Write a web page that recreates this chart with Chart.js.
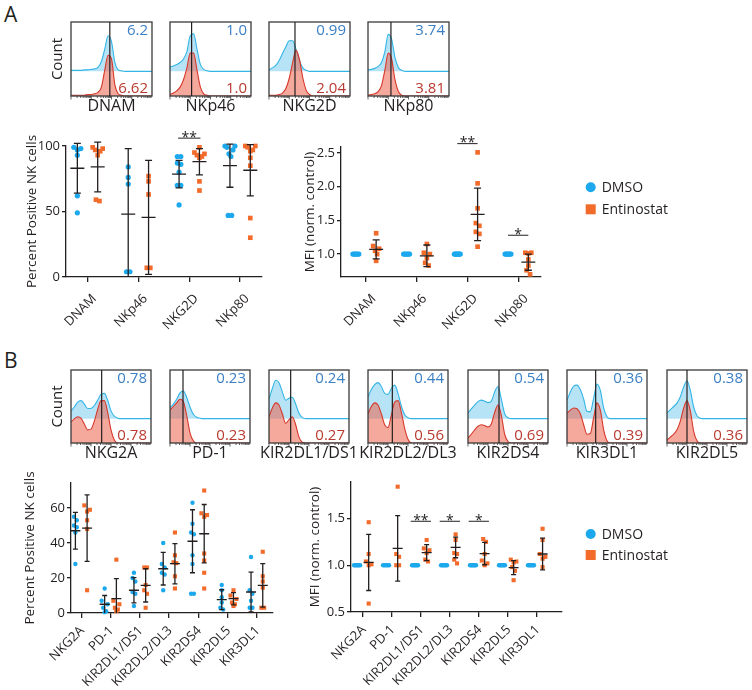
<!DOCTYPE html>
<html lang="en">
<head>
<meta charset="UTF-8">
<title>NK receptor expression - DMSO vs Entinostat</title>
<script src="https://cdn.jsdelivr.net/npm/chart.js"></script>
<style>
  html, body { margin: 0; padding: 0; background: #fff; overflow: hidden; }
  #fig { position: relative; width: 752px; height: 690px; font-family: 'Open Sans', sans-serif; color: #231f20; }
  #fig canvas { position: absolute; }
  .panel { position: absolute; font-size: 21px; line-height: 1; }
</style>
</head>
<body>
<div id="fig">
  <div class="panel" style="left:4px;top:4px">A</div>
  <div class="panel" style="left:4px;top:350px">B</div>
</div>
<script>
// ---------------- data ----------------
const seriesNames = ['DMSO', 'Entinostat'];

// panel A histograms (counts per bin, 25 bins, log fluorescence)
const histLabelsA = ['DNAM', 'NKp46', 'NKG2D', 'NKp80'];
const histMfiDmsoA = ['6.2', '1.0', '0.99', '3.74'];
const histMfiEntA = ['6.62', '1.0', '2.04', '3.81'];
const gateA = [11.5, 6.4, 7.7, 6.8];
const countsDmsoA = [
  [2, 2, 2, 2, 3, 3, 4, 5, 8, 20, 45, 72, 60, 18, 3, 1, 0, 0, 0, 0, 0, 0, 0, 0, 0],
  [9, 11, 14, 18, 25, 40, 72, 76, 45, 14, 4, 1, 0, 0, 0, 0, 0, 0, 0, 0, 0, 0, 0, 0, 0],
  [3, 7, 12, 22, 36, 50, 62, 62, 45, 22, 7, 2, 0, 0, 0, 0, 0, 0, 0, 0, 0, 0, 0, 0, 0],
  [3, 4, 6, 10, 18, 40, 75, 65, 28, 8, 2, 0, 0, 0, 0, 0, 0, 0, 0, 0, 0, 0, 0, 0, 0]
];
const countsEntA = [
  [1, 1, 1, 1, 1, 2, 2, 3, 5, 12, 35, 55, 50, 15, 3, 1, 0, 0, 0, 0, 0, 0, 0, 0, 0],
  [2, 4, 7, 12, 22, 38, 58, 58, 35, 12, 3, 1, 0, 0, 0, 0, 0, 0, 0, 0, 0, 0, 0, 0, 0],
  [1, 1, 1, 2, 4, 10, 24, 45, 62, 50, 25, 8, 2, 0, 0, 0, 0, 0, 0, 0, 0, 0, 0, 0, 0],
  [1, 2, 3, 6, 14, 35, 58, 50, 22, 6, 1, 0, 0, 0, 0, 0, 0, 0, 0, 0, 0, 0, 0, 0, 0]
];

// panel B histograms
const histLabelsB = ['NKG2A', 'PD-1', 'KIR2DL1/DS1', 'KIR2DL2/DL3', 'KIR2DS4', 'KIR3DL1', 'KIR2DL5'];
const histMfiDmsoB = ['0.78', '0.23', '0.24', '0.44', '0.54', '0.36', '0.38'];
const histMfiEntB = ['0.78', '0.23', '0.27', '0.56', '0.69', '0.39', '0.36'];
const gateB = [9.2, 3.9, 6.5, 7.3, 9.3, 8.6, 6.0];
const countsDmsoB = [
  [16, 24, 34, 37, 30, 21, 21, 27, 38, 50, 52, 38, 16, 5, 1, 0, 0, 0, 0, 0, 0, 0, 0, 0, 0],
  [22, 30, 40, 53, 57, 44, 24, 9, 3, 1, 0, 0, 0, 0, 0, 0, 0, 0, 0, 0, 0, 0, 0, 0, 0],
  [40, 62, 79, 74, 55, 38, 42, 44, 30, 11, 2, 0, 0, 0, 0, 0, 0, 0, 0, 0, 0, 0, 0, 0, 0],
  [45, 60, 70, 74, 66, 52, 50, 62, 69, 52, 26, 8, 2, 0, 0, 0, 0, 0, 0, 0, 0, 0, 0, 0, 0],
  [12, 20, 28, 35, 38, 36, 33, 36, 55, 66, 40, 10, 2, 0, 0, 0, 0, 0, 0, 0, 0, 0, 0, 0, 0],
  [38, 55, 67, 69, 60, 40, 15, 14, 42, 71, 58, 22, 4, 0, 0, 0, 0, 0, 0, 0, 0, 0, 0, 0, 0],
  [12, 18, 25, 32, 45, 65, 78, 58, 24, 6, 1, 0, 0, 0, 0, 0, 0, 0, 0, 0, 0, 0, 0, 0, 0]
];
const countsEntB = [
  [29, 33, 36, 34, 26, 18, 19, 30, 46, 58, 58, 42, 18, 4, 0, 0, 0, 0, 0, 0, 0, 0, 0, 0, 0],
  [45, 50, 55, 60, 57, 38, 14, 3, 0, 0, 0, 0, 0, 0, 0, 0, 0, 0, 0, 0, 0, 0, 0, 0, 0],
  [36, 48, 55, 52, 40, 27, 32, 36, 25, 8, 1, 0, 0, 0, 0, 0, 0, 0, 0, 0, 0, 0, 0, 0, 0],
  [40, 50, 55, 52, 40, 25, 21, 38, 56, 58, 42, 20, 5, 0, 0, 0, 0, 0, 0, 0, 0, 0, 0, 0, 0],
  [7, 12, 18, 23, 25, 24, 22, 26, 42, 52, 38, 12, 2, 0, 0, 0, 0, 0, 0, 0, 0, 0, 0, 0, 0],
  [41, 45, 48, 47, 40, 25, 12, 13, 35, 55, 45, 18, 3, 0, 0, 0, 0, 0, 0, 0, 0, 0, 0, 0, 0],
  [4, 8, 12, 18, 30, 48, 58, 44, 16, 3, 0, 0, 0, 0, 0, 0, 0, 0, 0, 0, 0, 0, 0, 0, 0]
];

// panel A dot plots
const catsA = ['DNAM', 'NKp46', 'NKG2D', 'NKp80'];
const pctDmsoA = [
  [99, 98, 97, 93, 62, 49],
  [84, 76, 71, 4, 4],
  [92, 92, 87, 86, 80, 70, 70, 55],
  [100, 100, 99, 97, 94, 92, 47, 47]
];
const pctEntA = [
  [99, 98, 97, 96, 93, 59, 58],
  [77, 73, 63, 7, 7],
  [99, 95, 94, 93, 92, 91, 73, 66],
  [100, 100, 99, 97, 96, 91, 85, 45, 30]
];
const pctMeanDmsoA = [83, 48, 78.5, 85];
const pctSdDmsoA = [19, 50, 10.5, 16.5];
const pctMeanEntA = [84, 45.5, 88, 81.5];
const pctSdEntA = [19, 43.5, 10, 19.5];
const pctTicksA = [0, 50, 100];
const pctSigCatsA = [3];
const pctSigTextA = ['**'];

const mfiDmsoA = [
  [1, 1, 1, 1, 1, 1],
  [1, 1, 1, 1, 1, 1],
  [1, 1, 1, 1, 1, 1, 1, 1],
  [1, 1, 1, 1, 1, 1, 1]
];
const mfiEntA = [
  [1.31, 1.12, 1.08, 1.05, 1.0, 0.90],
  [1.15, 1.02, 1.0, 0.94, 0.87, 0.83],
  [2.51, 2.05, 1.68, 1.46, 1.42, 1.33, 1.30, 1.11],
  [1.02, 1.02, 1.01, 0.92, 0.83, 0.76, 0.70]
];
const mfiMeanEntA = [1.07, 0.975, 1.59, 0.88];
const mfiSdEntA = [0.14, 0.16, 0.39, 0.12];
const mfiTicksA = [1.0, 1.5, 2.0, 2.5];
const mfiSigCatsA = [3, 4];
const mfiSigTextA = ['**', '*'];

// panel B dot plots
const catsB = ['NKG2A', 'PD-1', 'KIR2DL1/DS1', 'KIR2DL2/DL3', 'KIR2DS4', 'KIR2DL5', 'KIR3DL1'];
const pctDmsoB = [
  [55, 53, 50, 49, 46, 28],
  [14, 7, 5, 3, 1, 0.5],
  [23, 20, 18, 12, 11, 4],
  [40, 28, 26, 23, 22, 13],
  [63, 51, 46, 45, 33, 28, 11, 11],
  [16, 13, 9, 6, 3, 2],
  [32, 13, 11, 7, 3, 3]
];
const pctEntB = [
  [61.5, 59, 58, 53, 48, 13],
  [30.5, 7, 5, 3, 2, 1],
  [26, 26, 16, 13, 11, 3],
  [46, 33, 29, 28.5, 21, 14],
  [70, 57, 56, 55, 34, 30, 23, 14],
  [13, 10, 8, 6, 5, 4],
  [35, 21, 18, 14.5, 3, 3]
];
const pctMeanDmsoB = [47, 5, 13, 25.3, 41, 7.6, 12];
const pctSdDmsoB = [10.5, 5, 7.2, 9.3, 18, 5.7, 11.4];
const pctMeanEntB = [48.5, 8.2, 15.8, 28.2, 45.3, 8.2, 15.8];
const pctSdEntB = [19, 11.4, 9.5, 11.5, 16.7, 3.5, 12.4];
const pctTicksB = [0, 20, 40, 60];

const mfiDmsoB = [
  [1, 1, 1, 1, 1, 1],
  [1, 1, 1, 1, 1],
  [1, 1, 1, 1, 1, 1],
  [1, 1, 1, 1, 1, 1],
  [1, 1, 1, 1, 1, 1],
  [1, 1, 1, 1, 1, 1],
  [1, 1, 1, 1, 1, 1]
];
const mfiEntB = [
  [1.46, 1.12, 1.04, 1.01, 1.0, 0.59],
  [1.84, 1.12, 1.09, 1.0, 1.0],
  [1.27, 1.18, 1.16, 1.13, 1.06, 1.04],
  [1.33, 1.27, 1.13, 1.12, 1.06, 1.02],
  [1.28, 1.25, 1.12, 1.05, 1.02, 1.0],
  [1.06, 1.04, 1.03, 0.98, 0.94, 0.84],
  [1.39, 1.27, 1.12, 1.09, 1.07, 0.98]
];
const mfiMeanEntB = [1.03, 1.18, 1.135, 1.19, 1.125, 0.975, 1.12];
const mfiSdEntB = [0.3, 0.35, 0.085, 0.11, 0.12, 0.075, 0.17];
const mfiTicksB = [0.5, 1.0, 1.5];
const mfiSigCatsB = [3, 4, 5];
const mfiSigTextB = ['**', '*', '*'];

// ---------------- drawing ----------------
Chart.defaults.font.family = "'Open Sans', sans-serif";
Chart.defaults.color = '#231f20';
const INK = '#231f20';
const BLUE = '#1ca8ec';
const ORANGE = '#f26b2b';
const FONT = "'Open Sans', sans-serif";

function makeCanvas(left, top, w, h) {
  const c = document.createElement('canvas');
  c.width = w; c.height = h;
  c.style.left = left + 'px'; c.style.top = top + 'px';
  c.style.width = w + 'px'; c.style.height = h + 'px';
  document.getElementById('fig').appendChild(c);
  return c.getContext('2d');
}

// box, gate line, log ticks and MFI numbers for one histogram
const histDeco = {
  id: 'histDeco',
  afterDraw(chart, args, o) {
    const { ctx, chartArea: a } = chart;
    const sx = chart.scales.x;
    ctx.save();
    ctx.strokeStyle = '#3a3a3a';
    ctx.lineWidth = 1.3;
    ctx.strokeRect(a.left, a.top, a.right - a.left, a.bottom - a.top);
    ctx.lineWidth = 0.8;
    ctx.beginPath();
    for (let d = 0; d < 4; d++) {
      for (let k = 1; k < 10; k++) {
        const px = a.left + (a.right - a.left) * (d + Math.log10(k)) / 4;
        ctx.moveTo(px, a.bottom);
        ctx.lineTo(px, a.bottom + (k === 1 ? 3.5 : 2));
      }
    }
    ctx.stroke();
    const gx = sx.getPixelForValue(o.gate);
    ctx.strokeStyle = INK;
    ctx.lineWidth = 1.2;
    ctx.beginPath();
    ctx.moveTo(gx, a.top);
    ctx.lineTo(gx, a.bottom);
    ctx.stroke();
    ctx.font = '15px ' + FONT;
    ctx.textAlign = 'right';
    ctx.textBaseline = 'alphabetic';
    ctx.fillStyle = '#3b7fc4';
    ctx.fillText(o.top, a.right - 4, a.top + 13);
    ctx.fillStyle = '#b83a30';
    ctx.fillText(o.bottom, a.right - 4, a.bottom - 3);
    ctx.fillStyle = INK;
    ctx.textAlign = 'center';
    ctx.font = '16px ' + FONT;
    ctx.fillText(o.label, (a.left + a.right) / 2, a.bottom + 15);
    if (o.count) {
      ctx.translate(a.left - 13, (a.top + a.bottom) / 2);
      ctx.rotate(-Math.PI / 2);
      ctx.textBaseline = 'middle';
      ctx.font = '15px ' + FONT;
      ctx.fillText('Count', 0, 0);
    }
    ctx.restore();
  }
};

function histChart(box, dmso, ent, gate, topText, botText, label, count) {
  const [bl, bt, bw, bh] = box;
  const m = 26, mt = 4, mb = 24;
  const L = bl - m, T = bt - mt;
  const ctx = makeCanvas(L, T, bw + 2 * m, bh + mt + mb);
  new Chart(ctx, {
    type: 'line',
    data: {
      datasets: [
        { data: ent.map((v, i) => ({ x: i, y: v })), yAxisID: 'yE', borderColor: '#d6392c',
          backgroundColor: 'rgba(236,98,76,0.55)', fill: 'origin', order: 0 },
        { data: dmso.map((v, i) => ({ x: i, y: v })), yAxisID: 'yD', borderColor: '#33b5e5',
          backgroundColor: 'rgba(95,192,238,0.45)', fill: { value: 0 }, order: 1 }
      ]
    },
    options: {
      responsive: false, animation: false, devicePixelRatio: 1,
      layout: { padding: { left: m, right: m, top: mt, bottom: mb } },
      elements: { point: { radius: 0 }, line: { borderWidth: 1.1, cubicInterpolationMode: 'monotone' } },
      plugins: {
        legend: { display: false }, tooltip: { enabled: false },
        histDeco: { gate, top: topText, bottom: botText, label, count }
      },
      scales: {
        x: { type: 'linear', display: false, min: 0, max: dmso.length - 1 },
        yE: { display: false, min: 0, max: 100 },
        yD: { display: false, min: -50, max: 100 }
      }
    },
    plugins: [histDeco]
  });
}

// spread points that sit close together (beeswarm-like), returns offsets in category units
function swarm(vals, yPx, catPx, stepPx, maxPx) {
  const idx = vals.map((v, i) => i).sort((a, b) => vals[b] - vals[a]);
  const out = new Array(vals.length).fill(0);
  let group = [];
  const flush = () => {
    const n = group.length;
    const st = n > 1 ? Math.min(stepPx, maxPx / (n - 1)) : 0;
    const slots = [];
    for (let k = 0; k < n; k++) slots.push((k - (n - 1) / 2) * st);
    const order = [];
    let lo = 0, hi = n - 1;
    while (lo <= hi) { order.push(slots[lo++]); if (lo <= hi) order.push(slots[hi--]); }
    group.forEach((g, j) => { out[g] = order[j] / catPx; });
    group = [];
  };
  idx.forEach(k => {
    if (group.length && Math.abs(vals[group[group.length - 1]] - vals[k]) * yPx > 4.5) flush();
    group.push(k);
  });
  flush();
  return out;
}

const errorBars = {
  id: 'errorBars',
  afterDatasetsDraw(chart, args, o) {
    const { ctx, scales: { x, y } } = chart;
    ctx.save();
    ctx.strokeStyle = INK;
    ctx.lineWidth = 1.3;
    o.groups.forEach(g => {
      if (!g.mean) return;
      g.mean.forEach((m, i) => {
        const cx = x.getPixelForValue(i + 1 + g.off);
        const yHi = y.getPixelForValue(m + g.sd[i]);
        const yLo = y.getPixelForValue(Math.max(m - g.sd[i], y.min));
        const yM = y.getPixelForValue(m);
        ctx.beginPath();
        ctx.moveTo(cx, yHi); ctx.lineTo(cx, yLo);
        ctx.moveTo(cx - o.meanHalf, yM); ctx.lineTo(cx + o.meanHalf, yM);
        ctx.moveTo(cx - o.capHalf, yHi); ctx.lineTo(cx + o.capHalf, yHi);
        if (m - g.sd[i] > y.min) { ctx.moveTo(cx - o.capHalf, yLo); ctx.lineTo(cx + o.capHalf, yLo); }
        ctx.stroke();
      });
    });
    ctx.restore();
  }
};

const sigMarks = {
  id: 'sigMarks',
  afterDraw(chart, args, o) {
    if (!o.cats) return;
    const { ctx, scales: { x, y } } = chart;
    ctx.save();
    ctx.strokeStyle = INK;
    ctx.fillStyle = INK;
    ctx.lineWidth = 1;
    ctx.font = '14px ' + FONT;
    ctx.textAlign = 'center';
    ctx.textBaseline = 'alphabetic';
    o.cats.forEach((c, i) => {
      const x1 = x.getPixelForValue(c - o.half), x2 = x.getPixelForValue(c + o.half);
      const yy = y.getPixelForValue(o.levels[i]);
      ctx.beginPath(); ctx.moveTo(x1, yy); ctx.lineTo(x2, yy); ctx.stroke();
      ctx.fillText(o.text[i], (x1 + x2) / 2, yy + 3.5);
    });
    ctx.restore();
  }
};

const keyBox = {
  id: 'keyBox',
  afterDraw(chart, args, o) {
    if (!o.show) return;
    const c = chart.ctx;
    c.save();
    c.font = '14px ' + FONT;
    c.textBaseline = 'middle';
    c.textAlign = 'left';
    chart.data.datasets.forEach((ds, i) => {
      const yy = o.y + i * o.gap;
      c.fillStyle = ds.backgroundColor;
      if (ds.pointStyle === 'circle') { c.beginPath(); c.arc(o.x, yy, 5, 0, Math.PI * 2); c.fill(); }
      else c.fillRect(o.x - 5, yy - 5, 10, 10);
      c.fillStyle = INK;
      c.fillText(ds.label, o.x + 11, yy + 1);
    });
    c.restore();
  }
};

function dotChart(cfg) {
  const [al, at, ar, ab] = cfg.area;
  const L = Math.round(cfg.titleX - 8.1);
  const yw = al - L;
  const T = Math.round(at - 32);
  const W = Math.round(cfg.right - L);
  const xh = cfg.xh;
  const H = Math.round(ab + xh - T);
  const ctx = makeCanvas(L, T, W, H);
  const catPx = (ar - al) / (cfg.xMax - cfg.xMin);
  const yPx = (ab - at) / (cfg.yMax - cfg.yMin);
  const pts = (groups, off) => {
    const out = [];
    groups.forEach((vals, i) => {
      const jit = swarm(vals, yPx, catPx, cfg.step, cfg.spread);
      vals.forEach((v, k) => out.push({ x: i + 1 + off + jit[k], y: v }));
    });
    return out;
  };
  new Chart(ctx, {
    type: 'scatter',
    data: {
      datasets: [
        { label: seriesNames[0], data: pts(cfg.dmso, -0.2), pointStyle: 'circle', pointRadius: cfg.rDot,
          backgroundColor: BLUE, borderWidth: 0, clip: false },
        { label: seriesNames[1], data: pts(cfg.ent, 0.2), pointStyle: 'rect', pointRadius: cfg.rSq,
          backgroundColor: ORANGE, borderWidth: 0, clip: false }
      ]
    },
    options: {
      responsive: false, animation: false, devicePixelRatio: 1,
      layout: { padding: { left: 0, top: at - T, right: W - (ar - L), bottom: 0 } },
      elements: { point: { hoverRadius: 0 } },
      plugins: {
        legend: { display: false }, tooltip: { enabled: false },
        errorBars: {
          meanHalf: cfg.meanHalf, capHalf: cfg.capHalf,
          groups: [
            { off: -0.2, mean: cfg.meanD, sd: cfg.sdD },
            { off: 0.2, mean: cfg.meanE, sd: cfg.sdE }
          ]
        },
        sigMarks: cfg.sig || {},
        keyBox: cfg.key ? { show: true, x: cfg.key[0] - L, y: cfg.key[1] - T, gap: cfg.key[2] } : { show: false }
      },
      scales: {
        x: {
          type: 'linear', min: cfg.xMin, max: cfg.xMax,
          afterBuildTicks: s => { s.ticks = cfg.cats.map((c, i) => ({ value: i + 1 })); },
          afterFit: s => { s.height = xh; s.paddingLeft = 0; s.paddingRight = 0; },
          grid: { display: true, drawOnChartArea: false, drawTicks: true, tickLength: 5, color: INK, lineWidth: 1.3 },
          border: { display: true, color: INK, width: 1.3 },
          ticks: { autoSkip: false, minRotation: 45, maxRotation: 45, padding: cfg.labelPad,
                   labelOffset: cfg.labelShift, font: { size: 13 }, color: INK,
                   callback: (v, i) => cfg.cats[i] }
        },
        y: {
          min: cfg.yMin, max: cfg.yMax,
          afterBuildTicks: s => { s.ticks = cfg.yTicks.map(v => ({ value: v })); },
          afterFit: s => { s.width = yw; s.paddingTop = 0; s.paddingBottom = 0; },
          grid: { display: true, drawOnChartArea: false, drawTicks: true, tickLength: 4, color: INK, lineWidth: 1.3 },
          border: { display: true, color: INK, width: 1.3 },
          ticks: { padding: 2, font: { size: 13 }, color: INK, callback: cfg.yFmt },
          title: { display: true, text: cfg.title, padding: 0, font: { size: 13.5 }, color: INK }
        }
      }
    },
    plugins: [errorBars, sigMarks, keyBox]
  });
}

// ---- panel A histograms
const boxLeftA = [71, 170, 269, 368];
histLabelsA.forEach((lab, i) => {
  histChart([boxLeftA[i], 22, 81, 74], countsDmsoA[i], countsEntA[i], gateA[i],
    histMfiDmsoA[i], histMfiEntA[i], lab, i === 0);
});

// ---- panel B histograms
const boxLeftB = [71, 170, 269, 368, 468, 567, 667];
histLabelsB.forEach((lab, i) => {
  histChart([boxLeftB[i], 370, 80, 73], countsDmsoB[i], countsEntB[i], gateB[i],
    histMfiDmsoB[i], histMfiEntB[i], lab, i === 0);
});

// ---- panel A dot plots
dotChart({
  area: [66, 146, 262, 277], titleX: 32, right: 275, xh: 72,
  xMin: 0.577, xMax: 4.43, yMin: 0, yMax: 100, yTicks: pctTicksA, yFmt: v => String(v),
  cats: catsA, dmso: pctDmsoA, ent: pctEntA,
  meanD: pctMeanDmsoA, sdD: pctSdDmsoA, meanE: pctMeanEntA, sdE: pctSdEntA,
  title: 'Percent Positive NK cells', rDot: 2.6, rSq: 3.3, step: 3.5, spread: 10,
  meanHalf: 7, capHalf: 3.5, labelPad: 9, labelShift: 7,
  sig: { cats: pctSigCatsA, text: pctSigTextA, levels: [106], half: 0.22 }
});
dotChart({
  area: [341, 147, 541, 277], titleX: 310, right: 720, xh: 72,
  xMin: 0.507, xMax: 4.45, yMin: 0.66, yMax: 2.59, yTicks: mfiTicksA, yFmt: v => v.toFixed(1),
  cats: catsA, dmso: mfiDmsoA, ent: mfiEntA,
  meanD: null, sdD: null, meanE: mfiMeanEntA, sdE: mfiSdEntA,
  title: 'MFI (norm. control)', rDot: 2.6, rSq: 3.3, step: 3.5, spread: 6,
  meanHalf: 7, capHalf: 3.5, labelPad: 9, labelShift: 8,
  sig: { cats: mfiSigCatsA, text: mfiSigTextA, levels: [2.64, 1.28], half: 0.2 },
  key: [590.7, 187.3, 22]
});

// ---- panel B dot plots
dotChart({
  area: [71, 483, 273, 613], titleX: 30, right: 285, xh: 85,
  xMin: 0.65, xMax: 7.55, yMin: 0, yMax: 74.3, yTicks: pctTicksB, yFmt: v => String(v),
  cats: catsB, dmso: pctDmsoB, ent: pctEntB,
  meanD: pctMeanDmsoB, sdD: pctSdDmsoB, meanE: pctMeanEntB, sdE: pctSdEntB,
  title: 'Percent Positive NK cells', rDot: 2.2, rSq: 2.9, step: 2.8, spread: 6,
  meanHalf: 5, capHalf: 2.5, labelPad: 5, labelShift: 1
});
dotChart({
  area: [351, 482, 562, 612], titleX: 315, right: 720, xh: 85,
  xMin: 0.59, xMax: 7.87, yMin: 0.5, yMax: 1.89, yTicks: mfiTicksB, yFmt: v => v.toFixed(1),
  cats: catsB, dmso: mfiDmsoB, ent: mfiEntB,
  meanD: null, sdD: null, meanE: mfiMeanEntB, sdE: mfiSdEntB,
  title: 'MFI (norm. control)', rDot: 2.2, rSq: 2.9, step: 2.8, spread: 6,
  meanHalf: 5, capHalf: 2.5, labelPad: 5, labelShift: 1,
  sig: { cats: mfiSigCatsB, text: mfiSigTextB, levels: [1.47, 1.47, 1.47], half: 0.35 },
  key: [590.7, 534, 21]
});
</script>
</body>
</html>
